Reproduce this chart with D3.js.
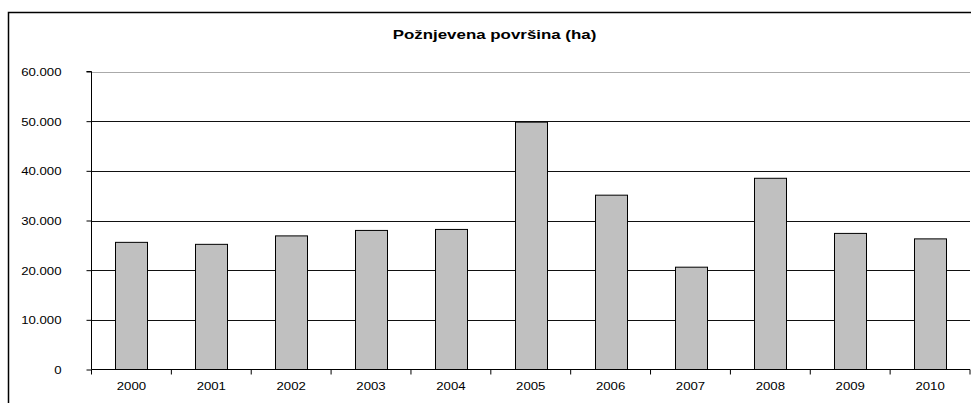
<!DOCTYPE html>
<html>
<head>
<meta charset="utf-8">
<script src="https://cdn.jsdelivr.net/npm/d3@7"></script>
<style>
  html, body { margin: 0; padding: 0; background: #fff; }
  svg { display: block; }
  text { font-family: "Liberation Sans", Arial, sans-serif; fill: #000; }
</style>
</head>
<body>
<svg id="chart" width="971" height="403"></svg>
<script>
// Harvested area by year (ha)
const years = ["2000", "2001", "2002", "2003", "2004", "2005", "2006", "2007", "2008", "2009", "2010"];
const area = [25600, 25200, 26900, 28000, 28200, 49800, 35100, 20600, 38500, 27400, 26300];
const yTicks = [0, 10000, 20000, 30000, 40000, 50000, 60000];
const title = "Požnjevena površina (ha)";

const svg = d3.select("#chart");
const W = 971, H = 403;
const plotL = 91.5, plotR = 970, plotT = 71.5, plotB = 369.5;
const sx = 1.2; // horizontal text stretch

// outer chart frame (open at the bottom and right edges of the view)
svg.append("path")
  .attr("d", `M8.5,${H + 2} V12.5 H${W + 2}`)
  .attr("fill", "none").attr("stroke", "#000").attr("stroke-width", 1.5);

const x = d3.scaleBand().domain(years).range([plotL, plotR]).paddingInner(0.6).paddingOuter(0.3);
const xBand = d3.scaleBand().domain(years).range([plotL, plotR]);
const y = d3.scaleLinear().domain([0, 60000]).range([plotB, plotT]);

const fmt = v => d3.format(",")(v).replace(/,/g, ".");

// horizontal gridlines
svg.append("g").selectAll("line").data(yTicks.filter(t => t > 0)).join("line")
  .attr("x1", plotL).attr("x2", plotR)
  .attr("y1", d => Math.round(y(d)) + 0.5).attr("y2", d => Math.round(y(d)) + 0.5)
  .attr("stroke", d => d === 60000 ? "#aaa" : "#111").attr("stroke-width", 1);

// bars
svg.append("g").selectAll("rect").data(years).join("rect")
  .attr("x", (d) => Math.round(x(d)) + 0.5)
  .attr("width", Math.round(x.bandwidth()))
  .attr("y", (d, i) => y(area[i]))
  .attr("height", (d, i) => plotB - y(area[i]))
  .attr("fill", "#c0c0c0").attr("stroke", "#000").attr("stroke-width", 1);

// y axis
const yAxis = d3.axisLeft(y).tickValues(yTicks).tickSize(5).tickFormat(fmt).tickPadding(0);
const gy = svg.append("g").attr("transform", `translate(${plotL},0)`).call(yAxis);
gy.select(".domain").attr("stroke", "#000").attr("d", `M-5,${plotT}H0V${plotB}`);
gy.selectAll(".tick line").attr("stroke", "#000");
gy.selectAll(".tick text").remove();
gy.selectAll(".tick").append("text")
  .attr("text-anchor", "end")
  .attr("transform", `translate(-30,4) scale(${sx},1)`)
  .style("font-size", "11px")
  .text(d => fmt(d));

// x axis with ticks on category boundaries
const gx = svg.append("g").attr("transform", `translate(0,${plotB})`);
gx.append("line").attr("x1", plotL).attr("x2", plotR).attr("stroke", "#000");
gx.selectAll("line.tk").data(years.concat(["end"])).join("line").attr("class", "tk")
  .attr("x1", (d, i) => i < years.length ? xBand(d) : plotR)
  .attr("x2", (d, i) => i < years.length ? xBand(d) : plotR)
  .attr("y1", 0).attr("y2", 5).attr("stroke", "#000");
gx.selectAll("text").data(years).join("text")
  .attr("text-anchor", "middle")
  .attr("transform", d => `translate(${xBand(d) + xBand.bandwidth() / 2},20) scale(${sx},1)`)
  .style("font-size", "11px")
  .text(d => d);

// title
svg.append("text")
  .attr("text-anchor", "middle")
  .attr("transform", `translate(494.5,39) scale(1.3,1)`)
  .style("font-size", "13px").style("font-weight", "bold")
  .text(title);
</script>
</body>
</html>
